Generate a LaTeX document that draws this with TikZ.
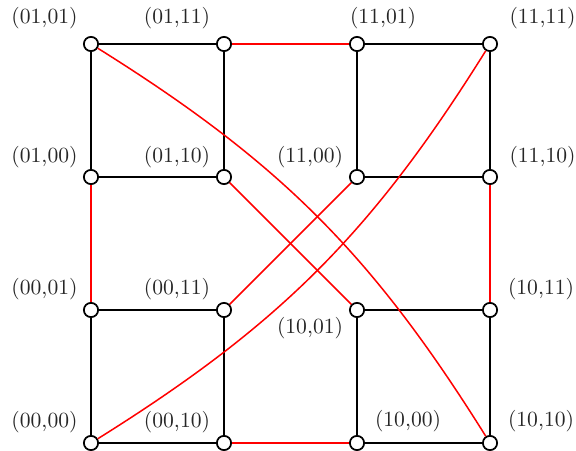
\documentclass[tikz,border=0pt]{standalone}
\begin{document}
\begin{tikzpicture}[x=0.463pt,y=-0.463pt,
  v/.style={circle,draw=black,fill=white,line width=0.8pt,minimum size=6.6pt,inner sep=0pt},
  blk/.style={black,line width=0.85pt},
  rd/.style={red,line width=0.7pt},
  lab/.style={inner sep=0pt,text=black!85}]
\useasboundingbox (0,0) rectangle (576,451);
% vertices
\node[v] (v0101) at (91,44) {};
\node[v] (v0111) at (224,44) {};
\node[v] (v1101) at (357,44) {};
\node[v] (v1111) at (490,44) {};
\node[v] (v0100) at (91,177) {};
\node[v] (v0110) at (224,177) {};
\node[v] (v1100) at (357,177) {};
\node[v] (v1110) at (490,177) {};
\node[v] (v0001) at (91,310) {};
\node[v] (v0011) at (224,310) {};
\node[v] (v1001) at (357,310) {};
\node[v] (v1011) at (490,310) {};
\node[v] (v0000) at (91,443) {};
\node[v] (v0010) at (224,443) {};
\node[v] (v1000) at (357,443) {};
\node[v] (v1010) at (490,443) {};
% labels
\node[lab] (l0101) at (44.5,17.8) {(01,01)};
\node[lab] (l0111) at (177,17.8) {(01,11)};
\node[lab] (l1101) at (383,17.8) {(11,01)};
\node[lab] (l1111) at (542.5,17.8) {(11,11)};
\node[lab] (l0100) at (44.5,157.5) {(01,00)};
\node[lab] (l0110) at (177,157.5) {(01,10)};
\node[lab] (l1100) at (310,157.5) {(11,00)};
\node[lab] (l1110) at (542.5,157.5) {(11,10)};
\node[lab] (l0001) at (44.5,289) {(00,01)};
\node[lab] (l0011) at (177,289) {(00,11)};
\node[lab] (l1001) at (310,328.5) {(10,01)};
\node[lab] (l1011) at (541,289) {(10,11)};
\node[lab] (l0000) at (44.5,422) {(00,00)};
\node[lab] (l0010) at (177,422) {(00,10)};
\node[lab] (l1000) at (408,421) {(10,00)};
\node[lab] (l1010) at (541,421) {(10,10)};
% black squares
\draw[blk] (v0101) -- (v0111) -- (v0110) -- (v0100) -- (v0101);
\draw[blk] (v1101) -- (v1111) -- (v1110) -- (v1100) -- (v1101);
\draw[blk] (v0001) -- (v0011) -- (v0010) -- (v0000) -- (v0001);
\draw[blk] (v1001) -- (v1011) -- (v1010) -- (v1000) -- (v1001);
% red edges
\draw[rd] (v0111) -- (v1101);
\draw[rd] (v0100) -- (v0001);
\draw[rd] (v1110) -- (v1011);
\draw[rd] (v0010) -- (v1000);
\draw[rd] (v0110) -- (v1001);
\draw[rd] (v1100) -- (v0011);
\draw[rd] (v0101) to[bend left=13] (v1010);
\draw[rd] (v0000) to[bend right=13] (v1111);
\end{tikzpicture}
\end{document}
